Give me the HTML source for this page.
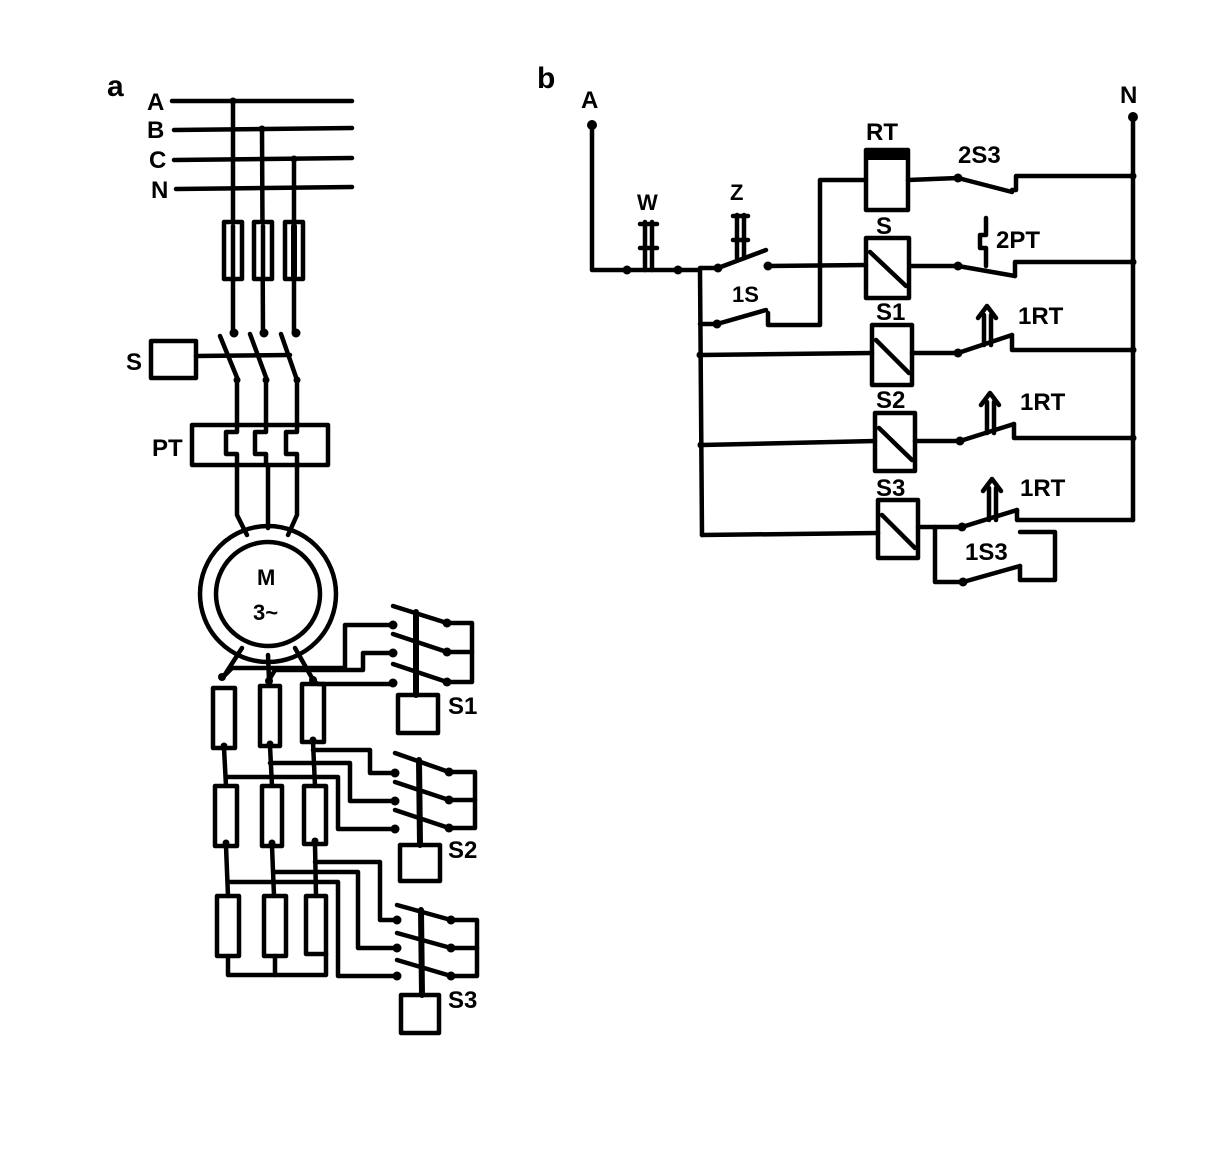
<!DOCTYPE html>
<html><head><meta charset="utf-8"><style>
html,body{margin:0;padding:0;background:#fff}
svg text{font-family:"Liberation Sans",sans-serif;font-weight:bold;fill:#000}
</style></head><body>
<svg width="1230" height="1144" viewBox="0 0 1230 1144" xmlns="http://www.w3.org/2000/svg">
<g stroke="#000" stroke-width="4.5" fill="none" stroke-linecap="round" stroke-linejoin="round">
<!-- PART A -->
<line x1="172" y1="101" x2="352" y2="101"/>
<line x1="174" y1="130" x2="352" y2="128"/>
<line x1="174" y1="160" x2="352" y2="158"/>
<line x1="176" y1="189" x2="352" y2="187"/>
<line x1="233" y1="101" x2="233" y2="333"/>
<line x1="262" y1="129" x2="263" y2="333"/>
<line x1="294" y1="159" x2="294" y2="333"/>
<rect x="224" y="222" width="18" height="57" fill="#fff"/>
<rect x="254" y="222" width="18" height="57" fill="#fff"/>
<rect x="285" y="222" width="18" height="57" fill="#fff"/>
<line x1="233" y1="226" x2="233" y2="276"/>
<line x1="263" y1="226" x2="263" y2="276"/>
<line x1="294" y1="226" x2="294" y2="276" stroke-width="6"/>
<rect x="151" y="341" width="45" height="37"/>
<line x1="196" y1="356" x2="290" y2="355"/>
<line x1="220" y1="336" x2="238" y2="380"/>
<line x1="250" y1="334" x2="267" y2="380"/>
<line x1="281" y1="334" x2="297" y2="380"/>
<line x1="237" y1="380" x2="237" y2="424"/>
<line x1="266" y1="380" x2="266" y2="424"/>
<line x1="297" y1="380" x2="297" y2="424"/>
<rect x="192" y="425" width="136" height="40"/>
<path d="M237 425 V432 H226 V454 H237 V465"/>
<path d="M266 425 V432 H255 V454 H266 V465"/>
<path d="M297 425 V432 H286 V454 H297 V465"/>
<path d="M237 465 V515 L247 535"/>
<line x1="268" y1="465" x2="268" y2="528"/>
<path d="M297 465 V515 L288 535"/>
<circle cx="268" cy="594" r="68"/>
<circle cx="268" cy="594" r="52"/>
<path d="M242 648 L224 676"/>
<line x1="268" y1="655" x2="269" y2="680"/>
<path d="M295 648 L312 678"/>
<path d="M222 678 L232 668 H345 V625 H393"/>
<path d="M269 680 L275 670 H363 V653 H393"/>
<path d="M312 680 L318 684 H393"/>
<g>
<rect x="213" y="688" width="22" height="60"/><rect x="260" y="686" width="20" height="60"/><rect x="302" y="684" width="22" height="58"/>
<rect x="215" y="786" width="22" height="60"/><rect x="262" y="786" width="20" height="60"/><rect x="304" y="786" width="22" height="58"/>
<rect x="217" y="896" width="22" height="60"/><rect x="264" y="896" width="22" height="60"/><rect x="306" y="896" width="20" height="58"/>
</g>
<line x1="224" y1="748" x2="226" y2="786"/>
<line x1="270" y1="746" x2="272" y2="786"/>
<line x1="313" y1="742" x2="315" y2="786"/>
<line x1="226" y1="846" x2="228" y2="896"/>
<line x1="272" y1="846" x2="274" y2="896"/>
<line x1="315" y1="844" x2="316" y2="896"/>
<path d="M228 956 V975 H326 V954"/>
<line x1="275" y1="956" x2="275" y2="975"/>
<path d="M313 750 H370 V773 H395"/>
<path d="M270 763 H350 V801 H395"/>
<path d="M226 777 H338 V829 H395"/>
<path d="M315 862 H380 V920 H395"/>
<path d="M274 872 H358 V948 H395"/>
<path d="M228 882 H338 V976 H395"/>
<line x1="393" y1="606" x2="447" y2="623"/>
<line x1="393" y1="634" x2="447" y2="652"/>
<line x1="393" y1="664" x2="447" y2="682"/>
<path d="M447 623 H472 V682 H447"/><line x1="447" y1="652" x2="472" y2="652"/>
<line x1="416" y1="612" x2="416" y2="695" stroke-width="6"/>
<rect x="398" y="695" width="40" height="38"/>
<line x1="395" y1="753" x2="449" y2="772"/>
<line x1="395" y1="782" x2="449" y2="800"/>
<line x1="395" y1="810" x2="449" y2="828"/>
<path d="M449 772 H475 V828 H449"/><line x1="449" y1="800" x2="475" y2="800"/>
<line x1="419" y1="760" x2="420" y2="845" stroke-width="6"/>
<rect x="400" y="845" width="40" height="36"/>
<line x1="397" y1="905" x2="451" y2="920"/>
<line x1="397" y1="933" x2="451" y2="948"/>
<line x1="397" y1="960" x2="451" y2="976"/>
<path d="M451 920 H477 V976 H451"/><line x1="451" y1="948" x2="477" y2="948"/>
<line x1="421" y1="910" x2="422" y2="995" stroke-width="6"/>
<rect x="401" y="995" width="38" height="38"/>

<!-- PART B -->
<path d="M592 125 V270 H700"/>
<line x1="700" y1="268" x2="718" y2="268"/>
<line x1="718" y1="268" x2="766" y2="250"/>
<line x1="768" y1="266" x2="866" y2="265"/>
<line x1="645" y1="222" x2="645" y2="270"/><line x1="652" y1="222" x2="652" y2="270"/>
<line x1="640" y1="224" x2="657" y2="224"/><line x1="640" y1="248" x2="657" y2="248"/>
<line x1="737" y1="215" x2="737" y2="258"/><line x1="744" y1="215" x2="744" y2="258"/>
<line x1="733" y1="216" x2="748" y2="216"/><line x1="733" y1="240" x2="748" y2="240"/>
<path d="M820 265 V180 H866"/>
<path d="M820 265 V325 H768 V313"/>
<line x1="717" y1="324" x2="766" y2="310"/>
<line x1="700" y1="270" x2="702" y2="535"/>
<line x1="700" y1="324" x2="717" y2="324"/>
<line x1="701" y1="355" x2="872" y2="353"/>
<line x1="702" y1="445" x2="875" y2="441"/>
<line x1="702" y1="535" x2="878" y2="533"/>
<rect x="866" y="150" width="42" height="60"/>
<rect x="866" y="238" width="43" height="60"/><line x1="870" y1="252" x2="906" y2="286"/>
<rect x="872" y="325" width="40" height="60"/><line x1="876" y1="340" x2="909" y2="373"/>
<rect x="875" y="413" width="40" height="58"/><line x1="879" y1="428" x2="912" y2="460"/>
<rect x="878" y="500" width="40" height="58"/><line x1="882" y1="515" x2="915" y2="548"/>
<path d="M1133 117 V520"/>
<line x1="908" y1="180" x2="958" y2="178"/>
<line x1="958" y1="178" x2="1012" y2="192"/>
<path d="M1012 190 H1016 V176 H1133"/>
<line x1="910" y1="266" x2="958" y2="266"/>
<line x1="958" y1="266" x2="1015" y2="276"/>
<path d="M1015 276 V262 H1133"/>
<path d="M986 218 V235 H980 V248 H986 V266"/>
<line x1="912" y1="353" x2="958" y2="353"/>
<line x1="958" y1="353" x2="1012" y2="335"/>
<path d="M1012 335 V350 H1133"/>
<line x1="984" y1="345" x2="984" y2="315"/><line x1="991" y1="345" x2="991" y2="315"/>
<path d="M978 318 L987 306 L996 318"/>
<line x1="915" y1="441" x2="960" y2="441"/>
<line x1="960" y1="441" x2="1014" y2="424"/>
<path d="M1014 424 V438 H1133"/>
<line x1="987" y1="433" x2="987" y2="402"/><line x1="994" y1="433" x2="994" y2="402"/>
<path d="M981 405 L990 393 L999 405"/>
<line x1="918" y1="527" x2="962" y2="527"/>
<line x1="962" y1="527" x2="1017" y2="510"/>
<path d="M1017 510 V520 H1133"/>
<line x1="989" y1="520" x2="989" y2="488"/><line x1="996" y1="520" x2="996" y2="488"/>
<path d="M983 491 L992 479 L1001 491"/>
<path d="M935 527 V582 H963"/>
<line x1="963" y1="582" x2="1020" y2="566"/>
<path d="M1020 566 V580 H1055 V532 H1020"/>
</g>
<g fill="#000">
<circle cx="233" cy="101" r="3.5"/><circle cx="262" cy="129" r="3.5"/><circle cx="294" cy="159" r="3.5"/>
<circle cx="234" cy="333" r="4.5"/><circle cx="264" cy="333" r="4.5"/><circle cx="296" cy="333" r="4.5"/>
<circle cx="237" cy="380" r="3.5"/><circle cx="266" cy="380" r="3.5"/><circle cx="297" cy="380" r="3.5"/>
<circle cx="222" cy="677" r="4"/><circle cx="269" cy="681" r="4"/><circle cx="313" cy="680" r="4"/>
<circle cx="393" cy="625" r="4.5"/><circle cx="393" cy="653" r="4.5"/><circle cx="393" cy="683" r="4.5"/>
<circle cx="447" cy="623" r="4.5"/><circle cx="447" cy="652" r="4.5"/><circle cx="447" cy="682" r="4.5"/>
<circle cx="395" cy="773" r="4.5"/><circle cx="395" cy="801" r="4.5"/><circle cx="395" cy="829" r="4.5"/>
<circle cx="449" cy="772" r="4.5"/><circle cx="449" cy="800" r="4.5"/><circle cx="449" cy="828" r="4.5"/>
<circle cx="397" cy="920" r="4.5"/><circle cx="397" cy="948" r="4.5"/><circle cx="397" cy="976" r="4.5"/>
<circle cx="451" cy="920" r="4.5"/><circle cx="451" cy="948" r="4.5"/><circle cx="451" cy="976" r="4.5"/>
<circle cx="224" cy="746" r="3.5"/><circle cx="270" cy="744" r="3.5"/><circle cx="313" cy="740" r="3.5"/>
<circle cx="226" cy="843" r="3.5"/><circle cx="272" cy="843" r="3.5"/><circle cx="315" cy="841" r="3.5"/>
<circle cx="592" cy="125" r="5"/><circle cx="1133" cy="117" r="5"/>
<circle cx="627" cy="270" r="4.5"/><circle cx="678" cy="270" r="4.5"/><circle cx="718" cy="268" r="4.5"/><circle cx="768" cy="266" r="4.5"/>
<circle cx="717" cy="324" r="4.5"/><circle cx="958" cy="178" r="4.5"/><circle cx="958" cy="266" r="4.5"/>
<circle cx="958" cy="353" r="4.5"/><circle cx="960" cy="441" r="4.5"/><circle cx="962" cy="527" r="4.5"/><circle cx="963" cy="582" r="4.5"/>
<circle cx="1133" cy="176" r="3.5"/><circle cx="1133" cy="262" r="3.5"/><circle cx="1133" cy="350" r="3.5"/><circle cx="1133" cy="438" r="3.5"/>
<circle cx="700" cy="355" r="3.5"/><circle cx="701" cy="445" r="3.5"/>
<rect x="866" y="150" width="42" height="10"/>
</g>
<g font-size="24">
<text x="107" y="96" font-size="30">a</text>
<text x="147" y="110">A</text><text x="147" y="138">B</text><text x="149" y="168">C</text><text x="151" y="198">N</text>
<text x="126" y="370">S</text><text x="152" y="456">PT</text>
<text x="257" y="585" font-size="22">M</text><text x="253" y="620" font-size="22">3~</text>
<text x="448" y="714">S1</text><text x="448" y="858">S2</text><text x="448" y="1008">S3</text>
<text x="537" y="88" font-size="30">b</text>
<text x="581" y="108">A</text><text x="1120" y="103">N</text>
<text x="637" y="210" font-size="22">W</text><text x="730" y="200" font-size="22">Z</text>
<text x="732" y="302" font-size="22">1S</text>
<text x="866" y="140">RT</text><text x="958" y="163">2S3</text>
<text x="876" y="234">S</text><text x="996" y="248">2PT</text>
<text x="876" y="320">S1</text><text x="1018" y="324">1RT</text>
<text x="876" y="408">S2</text><text x="1020" y="410">1RT</text>
<text x="876" y="496">S3</text><text x="1020" y="496">1RT</text>
<text x="965" y="560">1S3</text>
</g>
</svg>
</body></html>
